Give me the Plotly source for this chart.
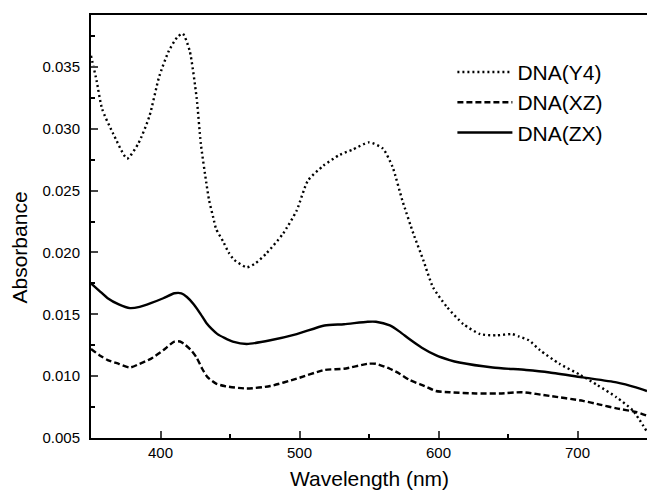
import plotly.graph_objects as go

# ---- data ----
wl_y4 = [350, 354, 358, 366, 376, 384, 392, 399, 406, 412, 416, 421, 426, 429, 433, 435,
         438, 440, 445, 449, 453, 462, 468, 476, 488, 498, 506, 517, 529, 538, 550, 560,
         567, 574, 582, 589, 596, 606, 618, 630, 642, 653, 658, 665, 673, 687, 702, 714,
         728, 740, 750]
abs_y4 = [0.0359, 0.0339, 0.0316, 0.0296, 0.0276, 0.0288, 0.0310, 0.0342, 0.0363, 0.0374,
          0.0377, 0.0363, 0.0325, 0.0288, 0.0256, 0.0242, 0.0228, 0.0219, 0.0209, 0.0200,
          0.0194, 0.0188, 0.0191, 0.0199, 0.0215, 0.0234, 0.0258, 0.0270, 0.0279, 0.0283,
          0.0289, 0.0284, 0.0269, 0.0242, 0.0215, 0.0194, 0.0172, 0.0156, 0.0142, 0.0134,
          0.0133, 0.0134, 0.0132, 0.0129, 0.0121, 0.0110, 0.0101, 0.0093, 0.0083, 0.0072,
          0.0055]

wl_xz = [350, 356, 362, 370, 378, 385, 393, 402, 410, 414, 417, 422, 426, 430, 434, 440,
         446, 462, 479, 498, 518, 532, 549, 555, 565, 572, 579, 590, 598, 608, 627, 644,
         660, 680, 704, 716, 728, 742, 750]
abs_xz = [0.0122, 0.0117, 0.0113, 0.0110, 0.0107, 0.0110, 0.0114, 0.0121, 0.0128, 0.0128,
          0.0126, 0.0121, 0.0115, 0.0106, 0.0099, 0.0094, 0.0092, 0.0090, 0.0092, 0.0098,
          0.0105, 0.0106, 0.0110, 0.0110, 0.0106, 0.0102, 0.0097, 0.0092, 0.0088, 0.0087,
          0.0086, 0.0086, 0.0087, 0.0084, 0.0080, 0.0077, 0.0074, 0.0071, 0.0068]

wl_zx = [350, 356, 362, 370, 378, 385, 393, 402, 410, 415, 419, 424, 429, 433, 437, 441,
         446, 452, 462, 479, 498, 518, 532, 549, 555, 565, 572, 579, 588, 598, 608, 615,
         639, 663, 680, 704, 728, 742, 750]
abs_zx = [0.0175, 0.0169, 0.0163, 0.0158, 0.0155, 0.0156, 0.0159, 0.0163, 0.0167, 0.0167,
          0.0164, 0.0158, 0.0150, 0.0143, 0.0138, 0.0134, 0.0131, 0.0128, 0.0126, 0.0129,
          0.0134, 0.0141, 0.0142, 0.0144, 0.0144, 0.0141, 0.0136, 0.0130, 0.0123, 0.0117,
          0.0113, 0.0111, 0.0107, 0.0105, 0.0103, 0.0099, 0.0095, 0.0091, 0.0088]

names = ["DNA(Y4)", "DNA(XZ)", "DNA(ZX)"]
x_title = "Wavelength (nm)"
y_title = "Absorbance"

FONT = "Liberation Sans, Arial, sans-serif"

fig = go.Figure()
fig.add_trace(go.Scatter(x=wl_y4, y=abs_y4, mode="lines", name=names[0],
                         line=dict(color="black", width=2.4, dash="2px,3px", shape="spline", smoothing=0.6)))
fig.add_trace(go.Scatter(x=wl_xz, y=abs_xz, mode="lines", name=names[1],
                         line=dict(color="black", width=2.4, dash="6px,3px", shape="spline", smoothing=0.6)))
fig.add_trace(go.Scatter(x=wl_zx, y=abs_zx, mode="lines", name=names[2],
                         line=dict(color="black", width=2.4, shape="spline", smoothing=0.6)))

fig.update_layout(
    width=647, height=496,
    margin=dict(l=91, r=0, t=15, b=58),
    paper_bgcolor="white", plot_bgcolor="white",
    font=dict(family=FONT, color="black", size=15),
    showlegend=True,
    legend=dict(x=0.65, y=0.913, xanchor="left", yanchor="top",
                font=dict(size=21, family=FONT), bgcolor="rgba(0,0,0,0)",
                itemwidth=55, tracegroupgap=0),
    xaxis=dict(range=[350, 750], tick0=0, dtick=100, ticks="inside", ticklen=7, tickwidth=2,
               showline=True, linewidth=2, linecolor="black", mirror=True,
               showgrid=False, zeroline=False,
               tickfont=dict(size=15),
               minor=dict(dtick=50, ticks="inside", ticklen=4, tickwidth=2, tickcolor="black", showgrid=False)),
    yaxis=dict(range=[0.005, 0.0392], tick0=0, dtick=0.005, tickformat=".3f",
               ticks="inside", ticklen=7, tickwidth=2, ticklabelstandoff=6,
               showline=True, linewidth=2, linecolor="black", mirror=False,
               showgrid=False, zeroline=False,
               tickfont=dict(size=15),
               minor=dict(dtick=0.0025, ticks="inside", ticklen=4, tickwidth=2, tickcolor="black", showgrid=False)),
    annotations=[
        dict(text=x_title, xref="paper", yref="paper", x=0.5, y=-0.096,
             xanchor="center", yanchor="middle", showarrow=False, font=dict(size=21)),
        dict(text=y_title, xref="paper", yref="paper", x=-0.129, y=0.451,
             xanchor="center", yanchor="middle", showarrow=False, textangle=-90, font=dict(size=21)),
    ],
)

fig.write_html("out.html", config={"displayModeBar": False},
               post_script="document.body.style.margin='0';document.body.style.overflow='hidden';")
